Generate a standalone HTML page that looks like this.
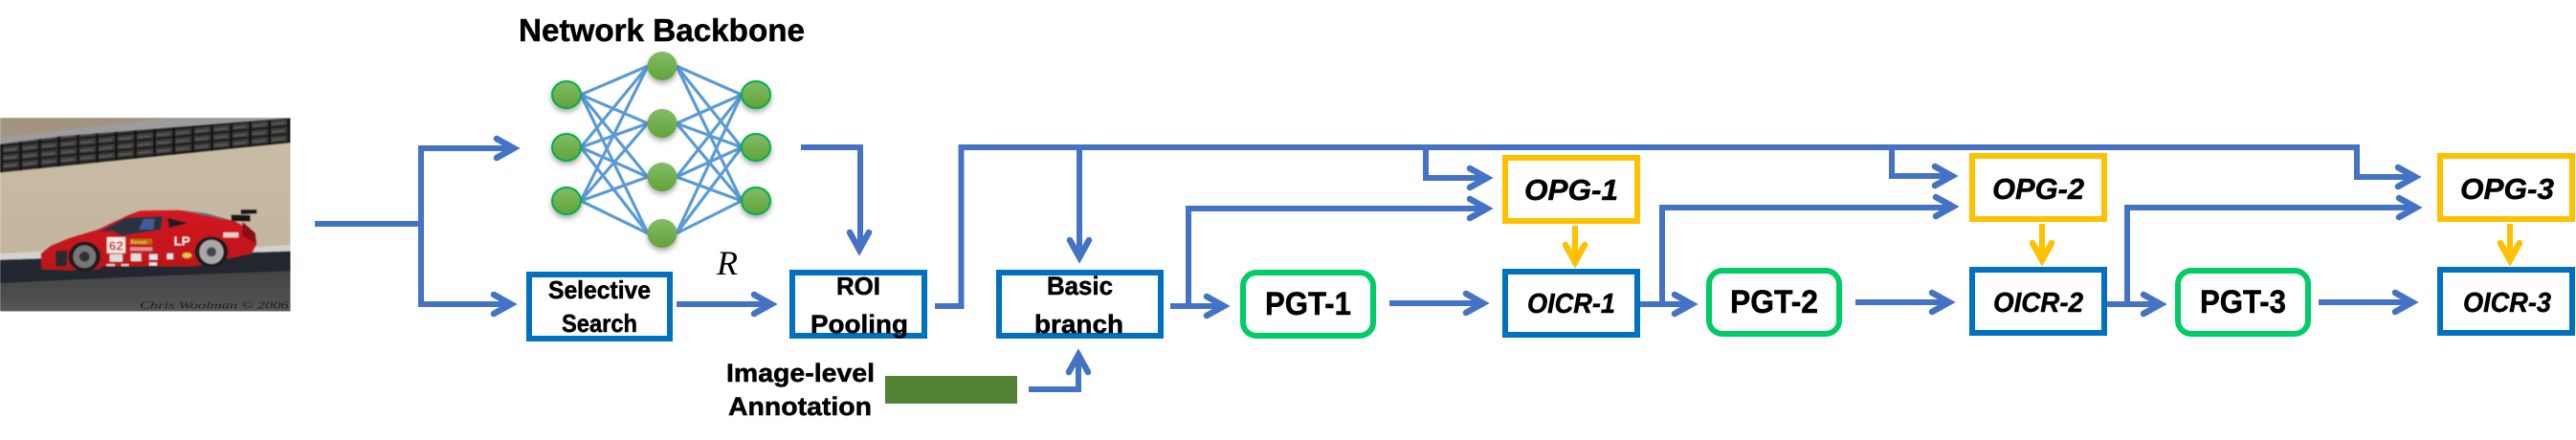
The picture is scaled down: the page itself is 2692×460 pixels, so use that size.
<!DOCTYPE html>
<html>
<head>
<meta charset="utf-8">
<style>
html,body{margin:0;padding:0;background:#fff;width:2692px;height:460px;overflow:hidden}
svg{display:block}
text{font-family:"Liberation Sans",sans-serif;font-weight:bold;fill:#000}
.t text,text.t{stroke:#000;stroke-width:.5px}
.l{fill:none;stroke:#4472C4;stroke-width:6;stroke-linejoin:miter}
.y{fill:none;stroke:#FFC000;stroke-width:6}
.hd{fill:none;stroke-width:6.5;stroke-linecap:round;stroke-linejoin:miter}
.b{fill:none;stroke:#0070C0;stroke-width:6}
.o{fill:none;stroke:#FFC000;stroke-width:6}
.g{fill:#fff;stroke:#00CC66;stroke-width:6}
.nn{stroke:#5B9BD5;stroke-width:3.2}
</style>
</head>
<body>
<svg width="2692" height="460" viewBox="0 0 2692 460" xmlns="http://www.w3.org/2000/svg">
<defs>
<path id="h" d="M-24,-10 L-6,0 L-24,10"/>
<linearGradient id="ng" x1="0" y1="0" x2="0" y2="1"><stop offset="0" stop-color="#83BC66"/><stop offset="1" stop-color="#62A43A"/></linearGradient>
<filter id="sh" x="-40%" y="-40%" width="180%" height="190%"><feDropShadow dx="0" dy="3" stdDeviation="3" flood-color="#000" flood-opacity=".35"/></filter>
<filter id="bl" x="-5%" y="-5%" width="110%" height="110%"><feGaussianBlur stdDeviation="1.6"/></filter>
<clipPath id="pc"><rect x="0" y="39" width="911" height="608"/></clipPath>
<pattern id="tire" width="60" height="25" patternUnits="userSpaceOnUse" patternTransform="skewY(-5.6)">
<rect width="60" height="25" fill="#3e3e3d"/>
<rect y="0" width="60" height="7" fill="#1e1e1e"/>
<rect x="12" y="15" width="40" height="5" fill="#5c5c5a"/>
<rect x="0" width="9" height="25" fill="#171717"/>
</pattern>
<linearGradient id="road" x1="0" y1="0" x2="0" y2="1"><stop offset="0" stop-color="#3b3b3d"/><stop offset="1" stop-color="#555553"/></linearGradient>
<linearGradient id="sand" x1="0" y1="0" x2="0" y2="1"><stop offset="0" stop-color="#c9bca6"/><stop offset="1" stop-color="#c2b39a"/></linearGradient>
<linearGradient id="red" x1="0" y1="0" x2="0" y2="1"><stop offset="0" stop-color="#d31a22"/><stop offset="1" stop-color="#bb1218"/></linearGradient>
</defs>

<!-- photo -->
<g transform="translate(0,110) scale(.33333)" clip-path="url(#pc)">
<g filter="url(#bl)">
<rect x="0" y="39" width="911" height="608" fill="url(#sand)"/>
<polygon points="0,39 911,39 911,60 0,120" fill="#a39381"/>
<polygon points="0,100 540,40 911,39 911,60 0,125" fill="#9c9c9c"/>
<polygon points="0,122 200,96 911,40 911,118 0,212" fill="url(#tire)"/>
<polygon points="0,465 125,458 800,445 911,438 911,460 800,465 125,480 0,487" fill="#d4d2ce"/>
<polygon points="0,485 911,458 911,647 0,647" fill="url(#road)"/>
<polygon points="0,485 911,458 911,520 500,535 0,558" fill="#20262e"/>
<g transform="translate(120,315)">
<!-- car uses coords of a 3x crop at (40,215) -->
<polygon points="8,150 40,125 100,100 185,75 280,30 320,15 440,13 530,25 620,50 680,85 685,120 670,150 600,165 490,190 200,190 190,200 90,203 10,200" fill="url(#red)"/>
<polygon points="190,82 275,38 390,33 385,75 260,95 235,80" fill="#2b3140"/>
<polygon points="315,75 330,42 365,42 360,75" fill="#3f5f9a"/>
<polygon points="405,38 470,55 410,70" fill="#241d20"/>
<polygon points="450,15 530,25 610,48 520,30" fill="#4b6a86"/>
<polygon points="605,28 665,30 665,50 605,48" fill="#141414"/>
<polygon points="635,12 685,12 685,25 635,27" fill="#141414"/>
<polygon points="640,50 680,85 685,120 640,95" fill="#8d1014"/>
<polygon points="54,142 92,140 90,190 54,190" fill="#2b2b2b"/>
<ellipse cx="145" cy="160" rx="50" ry="47" fill="#1a1a1a"/>
<ellipse cx="145" cy="160" rx="36" ry="36" fill="#777"/>
<ellipse cx="145" cy="160" rx="16" ry="16" fill="#333"/>
<ellipse cx="543" cy="145" rx="52" ry="48" fill="#1a1a1a"/>
<ellipse cx="543" cy="145" rx="38" ry="38" fill="#a9a9a9"/>
<ellipse cx="543" cy="145" rx="15" ry="15" fill="#444"/>
<rect x="215" y="99" width="58" height="50" fill="#f3ece6"/>
<text x="244" y="139" text-anchor="middle" font-size="40" style="fill:#d3211f">62</text>
<rect x="288" y="104" width="69" height="18" fill="#b8860b" opacity=".75"/>
<text x="290" y="120" font-size="16" style="fill:#f4d048">Ferrari</text>
<text x="425" y="125" font-size="40" style="fill:#f3ece6">LP</text>
<rect x="288" y="130" width="70" height="12" fill="#e9c9c0" opacity=".7"/>
<rect x="224" y="152" width="40" height="24" fill="#ddd"/>
<rect x="290" y="150" width="33" height="24" fill="#e6dcd8"/>
<rect x="348" y="152" width="26" height="18" fill="#dfe4f2"/>
<rect x="403" y="150" width="20" height="18" fill="#dfdde6"/>
<ellipse cx="466" cy="156" rx="15" ry="9" fill="#e9c43f"/>
<rect x="580" y="84" width="48" height="16" fill="#eee" opacity=".85"/>
<rect x="214" y="183" width="26" height="7" fill="#e8c8c0"/>
<rect x="260" y="183" width="24" height="7" fill="#e8c8c0"/>
<rect x="348" y="178" width="24" height="10" fill="#eee"/>
</g>
</g>
<text x="438" y="638" font-size="30" textLength="467" lengthAdjust="spacingAndGlyphs" style="font-family:'Liberation Serif',serif;font-style:italic;font-weight:normal;fill:#1d1d1d">Chris Woolman © 2006</text>
</g>

<!-- network -->
<g class="nn">
<line x1="607" y1="99" x2="677" y2="69"/><line x1="607" y1="99" x2="677" y2="129"/><line x1="607" y1="99" x2="677" y2="185"/><line x1="607" y1="99" x2="677" y2="244"/>
<line x1="607" y1="154" x2="677" y2="69"/><line x1="607" y1="154" x2="677" y2="129"/><line x1="607" y1="154" x2="677" y2="185"/><line x1="607" y1="154" x2="677" y2="244"/>
<line x1="607" y1="210" x2="677" y2="69"/><line x1="607" y1="210" x2="677" y2="129"/><line x1="607" y1="210" x2="677" y2="185"/><line x1="607" y1="210" x2="677" y2="244"/>
<line x1="707" y1="69" x2="775" y2="99"/><line x1="707" y1="69" x2="775" y2="154"/><line x1="707" y1="69" x2="775" y2="210"/>
<line x1="707" y1="129" x2="775" y2="99"/><line x1="707" y1="129" x2="775" y2="154"/><line x1="707" y1="129" x2="775" y2="210"/>
<line x1="707" y1="185" x2="775" y2="99"/><line x1="707" y1="185" x2="775" y2="154"/><line x1="707" y1="185" x2="775" y2="210"/>
<line x1="707" y1="244" x2="775" y2="99"/><line x1="707" y1="244" x2="775" y2="154"/><line x1="707" y1="244" x2="775" y2="210"/>
</g>
<g fill="url(#ng)" filter="url(#sh)">
<ellipse cx="692" cy="69" rx="15.5" ry="15"/><ellipse cx="692" cy="129" rx="15.5" ry="15"/><ellipse cx="692" cy="185" rx="15.5" ry="15"/><ellipse cx="692" cy="244" rx="15.5" ry="15"/>
</g>
<g fill="url(#ng)" stroke="#00B050" stroke-width="2" filter="url(#sh)">
<ellipse cx="592" cy="99" rx="15" ry="14"/><ellipse cx="592" cy="154" rx="15" ry="14"/><ellipse cx="592" cy="210" rx="15" ry="14"/>
<ellipse cx="790" cy="99" rx="15" ry="14"/><ellipse cx="790" cy="154" rx="15" ry="14"/><ellipse cx="790" cy="210" rx="15" ry="14"/>
</g>

<!-- connectors -->
<g class="l">
<path d="M329,234 H440"/>
<path d="M537,155 H440 V318 H534"/>
<path d="M707,318 H806"/>
<path d="M837,154 H899 V261"/>
<path d="M977,320 H1004.5 V154 H2463 V185 H2524"/>
<path d="M1128,155 V269"/>
<path d="M1490,155 V186 H1554"/>
<path d="M1977,155 V184 H2040"/>
<path d="M1075,407 H1127 V371"/>
<path d="M1223,320 H1279"/>
<path d="M1242,320 V218 H1554"/>
<path d="M1452,317 H1550"/>
<path d="M1714,318 H1768"/>
<path d="M1737,318 V217 H2041"/>
<path d="M1939,316 H2037"/>
<path d="M2202,318 H2258"/>
<path d="M2223,318 V217 H2525"/>
<path d="M2423,316 H2521"/>
</g>
<g class="hd" stroke="#4472C4">
<use href="#h" transform="translate(543,155)"/>
<use href="#h" transform="translate(540,318)"/>
<use href="#h" transform="translate(812,318)"/>
<use href="#h" transform="translate(898,267) rotate(90)"/>
<use href="#h" transform="translate(1128,275) rotate(90)"/>
<use href="#h" transform="translate(1127,365) rotate(-90)"/>
<use href="#h" transform="translate(1560,186)"/>
<use href="#h" transform="translate(1560,218)"/>
<use href="#h" transform="translate(1285,320)"/>
<use href="#h" transform="translate(1556,317)"/>
<use href="#h" transform="translate(1774,318)"/>
<use href="#h" transform="translate(2046,184)"/>
<use href="#h" transform="translate(2047,216)"/>
<use href="#h" transform="translate(2043,316)"/>
<use href="#h" transform="translate(2264,318)"/>
<use href="#h" transform="translate(2530,185)"/>
<use href="#h" transform="translate(2531,217)"/>
<use href="#h" transform="translate(2527,316)"/>
</g>
<g class="y">
<path d="M1646,236 V274"/><path d="M2134,234 V272"/><path d="M2623,234 V272"/>
</g>
<g class="hd" stroke="#FFC000">
<use href="#h" transform="translate(1646,280) rotate(90)"/>
<use href="#h" transform="translate(2134,278) rotate(90)"/>
<use href="#h" transform="translate(2623,278) rotate(90)"/>
</g>

<!-- boxes -->
<rect class="b" x="553" y="287" width="147" height="67"/>
<rect class="b" x="828" y="285" width="138" height="66"/>
<rect class="b" x="1044" y="285" width="169" height="66"/>
<rect class="o" x="1573" y="165" width="138" height="66"/>
<rect class="b" x="1573" y="284" width="138" height="66"/>
<rect class="g" x="1299" y="285" width="136" height="66" rx="14"/>
<rect class="g" x="1786" y="283" width="136" height="66" rx="14"/>
<rect class="o" x="2061" y="163" width="138" height="66"/>
<rect class="b" x="2061" y="282" width="138" height="66"/>
<rect class="g" x="2276" y="283" width="136" height="66" rx="14"/>
<rect class="o" x="2550" y="163" width="138" height="66"/>
<rect class="b" x="2550" y="282" width="138" height="66"/>
<rect x="925" y="393" width="138" height="29" fill="#548235"/>

<!-- labels -->
<g class="t">
<text x="542" y="43" font-size="33" textLength="299" lengthAdjust="spacingAndGlyphs">Network Backbone</text>
<text x="573" y="312" font-size="26" textLength="107" lengthAdjust="spacingAndGlyphs">Selective</text>
<text x="587" y="347" font-size="26" textLength="79" lengthAdjust="spacingAndGlyphs">Search</text>
<text x="874" y="308" font-size="26" textLength="46" lengthAdjust="spacingAndGlyphs">ROI</text>
<text x="847" y="348" font-size="27" textLength="102" lengthAdjust="spacingAndGlyphs">Pooling</text>
<text x="759" y="399" font-size="27" textLength="155" lengthAdjust="spacingAndGlyphs">Image-level</text>
<text x="761" y="434" font-size="27" textLength="150" lengthAdjust="spacingAndGlyphs">Annotation</text>
<text x="1094" y="308" font-size="27" textLength="69" lengthAdjust="spacingAndGlyphs">Basic</text>
<text x="1081" y="348" font-size="27" textLength="93" lengthAdjust="spacingAndGlyphs">branch</text>
<text x="1322" y="329" font-size="34" textLength="90" lengthAdjust="spacingAndGlyphs">PGT-1</text>
<text x="1808" y="327" font-size="34" textLength="92" lengthAdjust="spacingAndGlyphs">PGT-2</text>
<text x="2299" y="327" font-size="34" textLength="90" lengthAdjust="spacingAndGlyphs">PGT-3</text>
<g font-style="italic">
<text x="1593" y="209" font-size="31" textLength="98" lengthAdjust="spacingAndGlyphs">OPG-1</text>
<text x="2082" y="208" font-size="31" textLength="96" lengthAdjust="spacingAndGlyphs">OPG-2</text>
<text x="2571" y="208" font-size="31" textLength="98" lengthAdjust="spacingAndGlyphs">OPG-3</text>
<text x="1596" y="327" font-size="28.5" textLength="92" lengthAdjust="spacingAndGlyphs">OICR-1</text>
<text x="2083" y="326" font-size="28.5" textLength="94" lengthAdjust="spacingAndGlyphs">OICR-2</text>
<text x="2574" y="326" font-size="28.5" textLength="92" lengthAdjust="spacingAndGlyphs">OICR-3</text>
</g>
</g>
<text x="749" y="287" font-size="36" style="font-family:'Liberation Serif',serif;font-style:italic;font-weight:normal">R</text>
</svg>
</body>
</html>
